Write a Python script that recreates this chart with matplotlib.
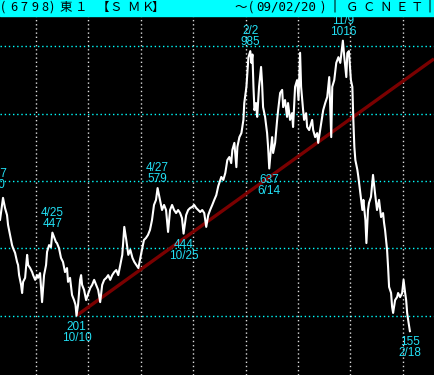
import pandas as pd
import matplotlib
matplotlib.use('Agg')
import matplotlib.pyplot as plt
from matplotlib.patches import Rectangle

# 株価 (6798 SMK), 2001-2009
dates = ['2001-03-27', '2001-04-25', '2001-05-16', '2001-05-30', '2001-06-13', '2001-06-20',
         '2001-07-04', '2001-07-18', '2001-07-25', '2001-08-08', '2001-08-22', '2001-08-29',
         '2001-09-05', '2001-09-19', '2001-09-26', '2001-10-03', '2001-10-17', '2001-10-31',
         '2001-11-07', '2001-11-21', '2001-12-05', '2001-12-12', '2001-12-26',
         '2002-01-08', '2002-01-15', '2002-01-29', '2002-02-12', '2002-02-26', '2002-03-12',
         '2002-03-19', '2002-04-02', '2002-04-15', '2002-04-25', '2002-05-20', '2002-05-27',
         '2002-06-10', '2002-06-24', '2002-07-08', '2002-07-22', '2002-08-05', '2002-08-12',
         '2002-08-26', '2002-09-09', '2002-09-23', '2002-10-03', '2002-10-10', '2002-10-21',
         '2002-11-04', '2002-11-11', '2002-11-18', '2002-12-02', '2002-12-16', '2002-12-27',
         '2003-01-14', '2003-01-27', '2003-02-10', '2003-02-24', '2003-03-10', '2003-03-24',
         '2003-04-07', '2003-04-21', '2003-05-06', '2003-05-19', '2003-06-02', '2003-06-16',
         '2003-06-30', '2003-07-14', '2003-07-28', '2003-08-11', '2003-08-25', '2003-09-08',
         '2003-09-22', '2003-10-06', '2003-10-20', '2003-11-04', '2003-11-17', '2003-12-01',
         '2003-12-15', '2003-12-26',
         '2004-01-09', '2004-01-23', '2004-02-06', '2004-02-20', '2004-03-05', '2004-03-19',
         '2004-04-02', '2004-04-16', '2004-04-27', '2004-05-14', '2004-05-28', '2004-06-11',
         '2004-06-25', '2004-07-09', '2004-07-23', '2004-08-06', '2004-08-20', '2004-09-03',
         '2004-09-17', '2004-10-01', '2004-10-14', '2004-10-25', '2004-11-12', '2004-11-26',
         '2004-12-10', '2004-12-24',
         '2005-01-07', '2005-01-21', '2005-02-04', '2005-02-18', '2005-03-04', '2005-03-18',
         '2005-04-01', '2005-04-15', '2005-04-28', '2005-05-13', '2005-05-27', '2005-06-10',
         '2005-06-24', '2005-07-15', '2005-07-29', '2005-08-12', '2005-08-26', '2005-09-09',
         '2005-09-22', '2005-09-30', '2005-10-14', '2005-10-28', '2005-11-04', '2005-11-18',
         '2005-12-02', '2005-12-16', '2005-12-22',
         '2006-01-06', '2006-01-20', '2006-02-02', '2006-02-10', '2006-02-17', '2006-02-24',
         '2006-03-03', '2006-03-14', '2006-03-22', '2006-04-04', '2006-04-18', '2006-04-25',
         '2006-05-02', '2006-05-16', '2006-05-30', '2006-06-06', '2006-06-14', '2006-06-27',
         '2006-07-04', '2006-07-11', '2006-07-25', '2006-08-08', '2006-08-15', '2006-08-29',
         '2006-09-12', '2006-09-19', '2006-10-02', '2006-10-16', '2006-10-23', '2006-11-06',
         '2006-11-20', '2006-11-27', '2006-12-11', '2006-12-25',
         '2007-01-04', '2007-01-15', '2007-01-22', '2007-02-05', '2007-02-12', '2007-02-26',
         '2007-03-05', '2007-03-19', '2007-04-09', '2007-04-16', '2007-04-30', '2007-05-14',
         '2007-05-21', '2007-06-04', '2007-06-25', '2007-07-09', '2007-07-23', '2007-08-06',
         '2007-08-20', '2007-08-27', '2007-09-10', '2007-09-24', '2007-10-09', '2007-10-22',
         '2007-11-02', '2007-11-09', '2007-11-19', '2007-12-03', '2007-12-10', '2007-12-21',
         '2008-01-04', '2008-01-14', '2008-01-21', '2008-01-28', '2008-02-04', '2008-02-18',
         '2008-02-25', '2008-03-10', '2008-03-24', '2008-03-31', '2008-04-14', '2008-04-21',
         '2008-05-02', '2008-05-09', '2008-05-23', '2008-06-06', '2008-06-20', '2008-07-04',
         '2008-07-18', '2008-08-01', '2008-08-15', '2008-08-22', '2008-08-29', '2008-09-12',
         '2008-09-19', '2008-09-26', '2008-10-10', '2008-10-17', '2008-10-24', '2008-11-07',
         '2008-11-21', '2008-11-28', '2008-12-12', '2008-12-26',
         '2009-01-05', '2009-01-16', '2009-01-23', '2009-01-30', '2009-02-06', '2009-02-18']
prices = [560, 484, 550, 520, 499, 470,
          440, 410, 401, 387, 360, 351,
          321, 292, 268, 301, 313, 381,
          351, 342, 330, 321, 307,
          321, 313, 327, 241, 321, 351,
          390, 410, 404, 447, 419, 416,
          401, 372, 360, 330, 342, 301,
          313, 262, 247, 233, 201, 233,
          307, 321, 292, 277, 247, 262,
          283, 292, 307, 292, 277, 241,
          292, 307, 313, 321, 307, 321,
          330, 336, 321, 351, 381, 464,
          425, 381, 396, 372, 360, 351,
          342, 366,
          396, 425, 431, 440, 455, 484,
          529, 544, 579, 544, 514, 529,
          514, 449, 514, 529, 514, 505,
          514, 505, 490, 444, 499, 514,
          520, 523,
          529, 520, 514, 508, 514, 505,
          464, 499, 514, 529, 544, 558,
          585, 612, 603, 624, 662, 671,
          653, 692, 713, 641, 701, 730,
          742, 781, 831,
          879, 967, 985, 950, 975, 879,
          810, 831, 790, 879, 938, 890,
          819, 790, 742, 701, 637, 701,
          730, 683, 713, 781, 810, 861,
          870, 819, 840, 790, 831, 781,
          801, 760, 879, 899,
          840, 980, 879, 810, 781, 801,
          760, 751, 781, 751, 730, 742,
          713, 751, 810, 831, 849, 908,
          730, 879, 899, 950, 967, 950,
          990, 1016, 967, 908, 979, 985,
          899, 879, 781, 701, 662, 633,
          612, 564, 514, 544, 484, 416,
          514, 535, 553, 618, 564, 514,
          544, 493, 505, 476, 455, 396,
          345, 286, 268, 227, 209, 247,
          256, 268, 256, 268,
          307, 268, 247, 209, 188, 155]

# 高値・安値の注記
mark_dates = ['2001-03-27', '2002-04-25', '2002-10-10', '2004-04-27', '2004-10-25',
              '2006-02-02', '2006-06-14', '2007-11-09', '2009-02-18']
mark_values = [560, 447, 201, 579, 444, 985, 637, 1016, 155]
mark_kinds = ['hi', 'hi', 'lo', 'hi', 'lo', 'hi', 'lo', 'hi', 'lo']

# トレンドライン
trend_dates = ['2002-10-10', '2009-08-05']
trend_values = [201, 962]

W, H = 434, 375
BAR = 16

fig = plt.figure(figsize=(W / 100, H / 100), dpi=100)
fig.patch.set_facecolor('black')
ax = fig.add_axes([0, 0, 1, (H - BAR) / H])
ax.set_facecolor('black')

x = pd.to_datetime(dates)
ax.plot(pd.to_datetime(trend_dates), trend_values, color='#7a0000', lw=2.4,
        solid_capstyle='butt', zorder=2)
ax.plot(x, prices, color='white', lw=1.5, zorder=3)

ax.set_xlim(pd.Timestamp('2001-04-25'), pd.Timestamp('2009-08-05'))
ax.set_ylim(25, 1089)

for v in [200, 400, 600, 800, 1000]:
    ax.axhline(v, color='#00ffff', lw=1.0, ls=(0, (1, 2)), zorder=1)
for yr in range(2002, 2010):
    ax.axvline(pd.Timestamp(f'{yr}-01-01'), color='#dddddd', lw=1.0, ls=(0, (1, 2)), zorder=1)

ax.set_xticks([])
ax.set_yticks([])
for s in ax.spines.values():
    s.set_visible(False)

for d, v, k in zip(mark_dates, mark_values, mark_kinds):
    t = pd.Timestamp(d)
    md = f'{t.month}/{t.day}'
    if k == 'hi':
        txt, off, va = f'{md}\n{v}', 3, 'bottom'
    else:
        txt, off, va = f'{v}\n{md}', -5, 'top'
    ax.annotate(txt, xy=(t, v), xytext=(0, off), textcoords='offset pixels',
                ha='center', va=va, color='#22e0f5', fontsize=8.5,
                family='Liberation Sans', linespacing=0.9,
                annotation_clip=False, zorder=4)

# タイトルバー
fig.patches.append(Rectangle((0, (H - BAR) / H), 1, BAR / H, transform=fig.transFigure,
                             color='#00ffff', zorder=0))
title_chars = ['(', '6', '7', '9', '8', ')', '東', '１', '【', 'Ｓ', 'Ｍ', 'Ｋ', '】',
               '～', '(', '09/02/20', ')', '║', 'Ｇ', 'Ｃ', 'Ｎ', 'Ｅ', 'Ｔ', '║']
title_pos = [2.5, 13.5, 24, 35, 45, 51.5, 66, 81.5, 102.5, 116, 133.5, 148, 157.5,
             240.5, 251, 286.5, 322.5, 335, 352.5, 369, 386, 402, 417, 430]
for ch, px in zip(title_chars, title_pos):
    fam = ['DejaVu Sans Mono'] if ch == '09/02/20' else ['Noto Sans CJK JP', 'DejaVu Sans']
    fig.text(px / W, 1 - 7.5 / H, ch, ha='center', va='center', color='black',
             fontsize=9, family=fam)

fig.savefig('out.png', dpi=100, facecolor='black')
